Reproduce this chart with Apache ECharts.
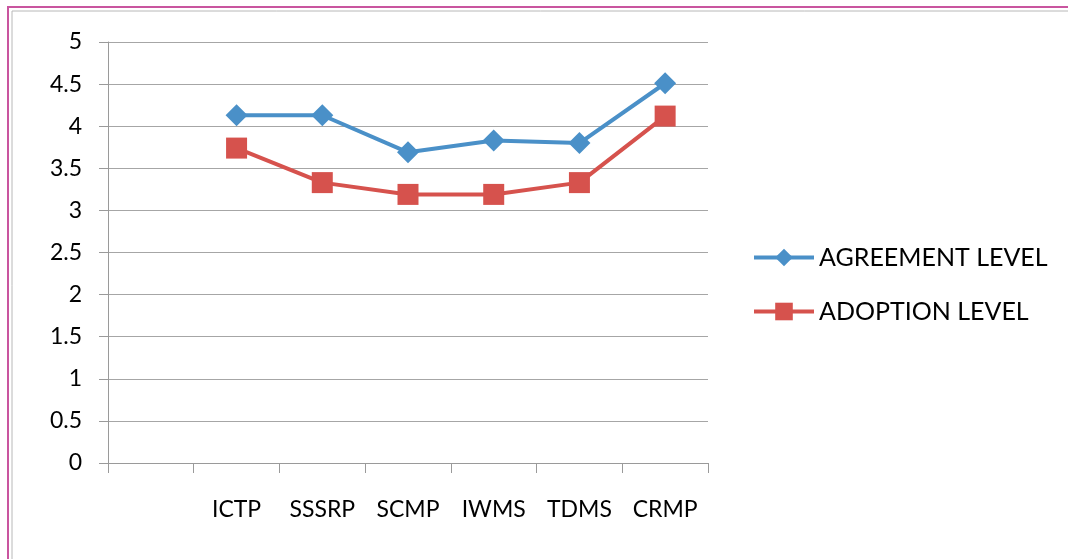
<!DOCTYPE html>
<html>
<head>
<meta charset="utf-8">
<script src="https://cdn.jsdelivr.net/npm/echarts@6/dist/echarts.min.js"></script>
<style>
  html, body { margin: 0; padding: 0; background: #fff; }
  #chart { width: 1068px; height: 559px; }
</style>
</head>
<body>
<div id="chart"></div>
<script>
// categories (first slot is blank in the original)
const categories = ['', 'ICTP', 'SSSRP', 'SCMP', 'IWMS', 'TDMS', 'CRMP'];
const agreementLevel = [null, 4.13, 4.13, 3.69, 3.83, 3.80, 4.51];
const adoptionLevel = [null, 3.74, 3.33, 3.19, 3.19, 3.33, 4.12];

const fontFamily = 'Lato, "Liberation Sans", sans-serif';

const myChart = echarts.init(document.getElementById('chart'));
const option = {
  backgroundColor: '#fff',
  animation: false,
  graphic: [
    {
      type: 'rect',
      shape: {x: 8, y: 7, width: 1120, height: 620},
      style: {fill: 'none', stroke: '#c9559f', lineWidth: 2}
    },
    {
      type: 'rect',
      shape: {x: 12, y: 11, width: 1110, height: 610},
      style: {fill: 'none', stroke: '#b8b8b8', lineWidth: 1}
    }
  ],
  grid: {
    left: 108,
    top: 42,
    right: 360,
    bottom: 96,
    containLabel: false
  },
  legend: {
    orient: 'vertical',
    left: 747,
    top: 240,
    itemWidth: 60,
    itemHeight: 22,
    itemGap: 29,
    lineStyle: {width: 4},
    textStyle: {
      fontFamily: fontFamily,
      fontSize: 25,
      color: '#000'
    },
    data: ['AGREEMENT LEVEL', 'ADOPTION LEVEL']
  },
  xAxis: {
    type: 'category',
    data: categories,
    boundaryGap: true,
    axisLine: {lineStyle: {color: '#9a9a9a', width: 1}},
    axisTick: {show: true, length: 10, lineStyle: {color: '#9a9a9a'}},
    axisLabel: {
      margin: 35,
      interval: 0,
      color: '#000',
      fontFamily: fontFamily,
      fontSize: 23
    },
    splitLine: {show: false}
  },
  yAxis: {
    type: 'value',
    min: 0,
    max: 5,
    interval: 0.5,
    axisLine: {show: true, lineStyle: {color: '#9a9a9a', width: 1}},
    axisTick: {show: true, length: 9, lineStyle: {color: '#9a9a9a'}},
    axisLabel: {
      margin: 26,
      color: '#000',
      fontFamily: fontFamily,
      fontSize: 23
    },
    splitLine: {lineStyle: {color: '#a6a6a6', width: 1}}
  },
  series: [
    {
      name: 'AGREEMENT LEVEL',
      type: 'line',
      data: agreementLevel,
      symbol: 'diamond',
      symbolSize: 22,
      itemStyle: {color: '#4a90c8'},
      lineStyle: {color: '#4a90c8', width: 4}
    },
    {
      name: 'ADOPTION LEVEL',
      type: 'line',
      data: adoptionLevel,
      symbol: 'rect',
      symbolSize: 21,
      itemStyle: {color: '#d6524d'},
      lineStyle: {color: '#d6524d', width: 4}
    }
  ]
};
myChart.setOption(option);
</script>
</body>
</html>
